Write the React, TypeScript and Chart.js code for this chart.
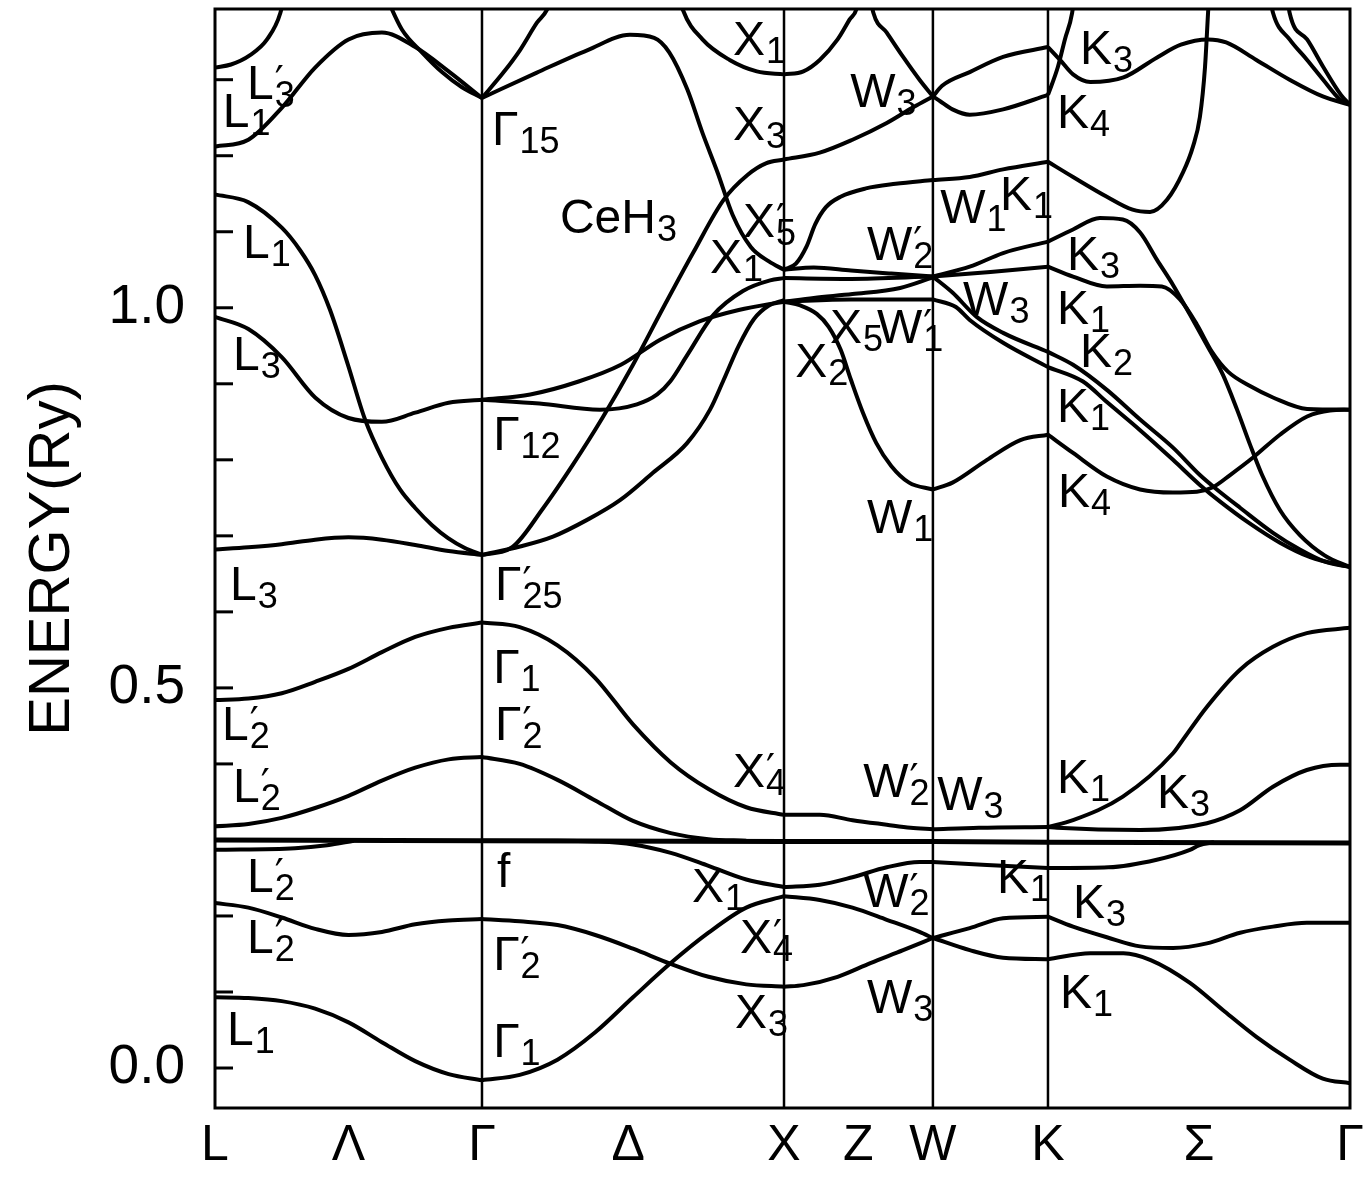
import React, { useEffect, useRef } from "react";
import { Chart, registerables } from "chart.js";

Chart.register(...registerables);

// High-symmetry points along the path (units of 2π/a): L, Γ, X, W, K, Γ
const SYM_K = [0, 0.884, 1.884, 2.377, 2.758, 3.758];
const X_TICK_K = [0, 0.442, 0.884, 1.368, 1.884, 2.13, 2.377, 2.758, 3.258, 3.758];
const X_TICK_LABELS = ["L", "Λ", "Γ", "Δ", "X", "Z", "W", "K", "Σ", "Γ"];
const Y_LABEL_TICKS = [0, 0.5, 1.0];
const Y_MINOR_TICKS = [0, 0.1, 0.2, 0.3, 0.4, 0.5, 0.6, 0.7, 0.8, 0.9, 1.0, 1.1, 1.2, 1.3];
const E_MIN = -0.0526;
const E_MAX = 1.393;

// Bands per segment: [fraction along segment, energy (Ry)]
const BANDS_L_G = [
  [[0, 0.093], [0.125, 0.092], [0.25, 0.088], [0.375, 0.078], [0.5, 0.06], [0.625, 0.034], [0.75, 0.009], [0.875, -0.008], [1, -0.016]],
  [[0, 0.217], [0.125, 0.211], [0.25, 0.198], [0.375, 0.183], [0.5, 0.175], [0.625, 0.179], [0.75, 0.189], [0.875, 0.194], [1, 0.196]],
  [[0, 0.287], [0.3, 0.289], [0.42, 0.293], [0.52, 0.299]],
  [[0, 0.318], [0.125, 0.321], [0.25, 0.329], [0.375, 0.342], [0.5, 0.358], [0.625, 0.378], [0.75, 0.395], [0.875, 0.406], [1, 0.409]],
  [[0, 0.484], [0.125, 0.486], [0.25, 0.493], [0.375, 0.508], [0.5, 0.525], [0.625, 0.547], [0.75, 0.567], [0.875, 0.579], [1, 0.586]],
  [[0, 0.682], [0.125, 0.685], [0.25, 0.689], [0.375, 0.695], [0.5, 0.698], [0.625, 0.695], [0.75, 0.688], [0.875, 0.68], [1, 0.675]],
  [[0, 1.149], [0.124, 1.139], [0.251, 1.105], [0.318, 1.076], [0.375, 1.043], [0.431, 0.997], [0.498, 0.925], [0.562, 0.853], [0.625, 0.803], [0.693, 0.761], [0.749, 0.737], [0.813, 0.714], [0.873, 0.697], [0.936, 0.684], [1, 0.675]],
  [[0, 0.988], [0.125, 0.972], [0.25, 0.935], [0.375, 0.882], [0.5, 0.855], [0.625, 0.85], [0.75, 0.862], [0.875, 0.875], [1, 0.879]],
  [[0, 1.212], [0.125, 1.221], [0.25, 1.263], [0.375, 1.316], [0.5, 1.353], [0.625, 1.362], [0.75, 1.343], [0.875, 1.311], [1, 1.276]],
  [[0, 1.316], [0.06, 1.32], [0.13, 1.332], [0.195, 1.353], [0.245, 1.388], [0.27, 1.43]],
  [[0.64, 1.41], [0.7, 1.366], [0.775, 1.336], [0.85, 1.31], [0.925, 1.29], [1, 1.276]],
];

const BANDS_G_X = [
  [[0, -0.016], [0.125, -0.009], [0.25, 0.011], [0.375, 0.047], [0.5, 0.093], [0.625, 0.138], [0.75, 0.178], [0.875, 0.211], [1, 0.226]],
  [[0, 0.196], [0.125, 0.193], [0.25, 0.188], [0.375, 0.175], [0.5, 0.157], [0.625, 0.137], [0.75, 0.12], [0.875, 0.11], [1, 0.107]],
  [[0, 0.299], [0.25, 0.299], [0.375, 0.298], [0.5, 0.294], [0.625, 0.283], [0.75, 0.266], [0.875, 0.248], [1, 0.238]],
  [[0, 0.409], [0.125, 0.4], [0.25, 0.379], [0.375, 0.352], [0.5, 0.325], [0.625, 0.309], [0.75, 0.301], [0.875, 0.299]],
  [[0, 0.586], [0.125, 0.58], [0.25, 0.556], [0.375, 0.513], [0.5, 0.452], [0.625, 0.402], [0.75, 0.367], [0.875, 0.343], [1, 0.333]],
  [[0, 0.675], [0.1, 0.685], [0.2, 0.735], [0.3, 0.793], [0.4, 0.856], [0.5, 0.925], [0.6, 1.0], [0.7, 1.073], [0.8, 1.142], [0.88, 1.175], [0.94, 1.19], [1, 1.195]],
  [[0, 0.675], [0.126, 0.686], [0.235, 0.699], [0.348, 0.721], [0.457, 0.747], [0.566, 0.783], [0.679, 0.822], [0.755, 0.866], [0.8, 0.905], [0.85, 0.95], [0.9, 0.985], [0.95, 1.003], [1, 1.01]],
  [[0, 0.879], [0.16, 0.886], [0.32, 0.903], [0.46, 0.925], [0.59, 0.958], [0.72, 0.982], [0.85, 0.997], [1, 1.008]],
  [[0, 0.879], [0.19, 0.874], [0.39, 0.866], [0.513, 0.873], [0.58, 0.886], [0.623, 0.903], [0.68, 0.938], [0.765, 0.99], [0.864, 1.022], [0.954, 1.036], [1, 1.039]],
  [[0, 1.276], [0.18, 1.309], [0.35, 1.339], [0.49, 1.359], [0.57, 1.355], [0.62, 1.336], [0.68, 1.287], [0.73, 1.23], [0.78, 1.178], [0.83, 1.122], [0.89, 1.08], [0.95, 1.061], [1, 1.05]],
  [[0, 1.276], [0.07, 1.309], [0.126, 1.339], [0.182, 1.375], [0.215, 1.392], [0.245, 1.425]],
  [[0.64, 1.43], [0.665, 1.392], [0.73, 1.353], [0.82, 1.326], [0.91, 1.311], [1, 1.307]],
];

const BANDS_X_W = [
  [[0, 0.107], [0.13, 0.109], [0.36, 0.12], [0.58, 0.138], [0.8, 0.155], [1, 0.171]],
  [[0, 0.226], [0.24, 0.221], [0.46, 0.211], [0.69, 0.195], [0.91, 0.179], [1, 0.171]],
  [[0, 0.238], [0.24, 0.241], [0.46, 0.251], [0.69, 0.264], [0.91, 0.271], [1, 0.271]],
  [[0, 0.333], [0.24, 0.333], [0.46, 0.326], [0.69, 0.32], [0.85, 0.316], [1, 0.314]],
  [[0, 1.008], [0.11, 1.003], [0.22, 0.992], [0.3, 0.975], [0.38, 0.945], [0.45, 0.905], [0.53, 0.862], [0.62, 0.822], [0.72, 0.792], [0.84, 0.77], [1, 0.761]],
  [[0, 1.05], [0.08, 1.058], [0.15, 1.08], [0.21, 1.11], [0.28, 1.132], [0.38, 1.146], [0.55, 1.157], [0.75, 1.163], [1, 1.168]],
  [[0, 1.195], [0.24, 1.204], [0.46, 1.221], [0.69, 1.243], [0.87, 1.264], [1, 1.278]],
  [[0.57, 1.42], [0.6, 1.388], [0.69, 1.362], [0.8, 1.33], [0.91, 1.3], [1, 1.278]],
  [[0, 1.307], [0.13, 1.311], [0.24, 1.326], [0.36, 1.353], [0.44, 1.379], [0.49, 1.395], [0.52, 1.43]],
  [[0, 1.05], [0.2, 1.053], [0.45, 1.049], [0.72, 1.045], [1, 1.041]],
  [[0, 1.039], [0.45, 1.038], [1, 1.041]],
  [[0, 1.008], [0.45, 1.011], [1, 1.011]],
  [[0, 1.008], [0.2, 1.013], [0.46, 1.018], [0.78, 1.026], [1, 1.04]],
];

const BANDS_W_K = [
  [[0, 0.171], [0.32, 0.184], [0.61, 0.197], [1, 0.199]],
  [[0, 0.171], [0.32, 0.155], [0.61, 0.145], [1, 0.143]],
  [[0, 0.271], [0.47, 0.267], [1, 0.263]],
  [[0, 0.314], [0.4, 0.316], [1, 0.317]],
  [[0, 0.761], [0.17, 0.77], [0.47, 0.8], [0.76, 0.826], [1, 0.833]],
  [[0, 1.041], [0.17, 1.02], [0.38, 0.988], [0.61, 0.967], [1, 0.942]],
  [[0, 1.011], [0.2, 1.001], [0.32, 0.984], [0.61, 0.954], [1, 0.922]],
  [[0, 1.041], [0.32, 1.054], [0.61, 1.072], [1, 1.087]],
  [[0, 1.041], [0.5, 1.047], [1, 1.054]],
  [[0, 1.168], [0.32, 1.172], [0.61, 1.182], [1, 1.192]],
  [[0, 1.278], [0.08, 1.292], [0.32, 1.31], [0.61, 1.33], [1, 1.343]],
  [[0, 1.278], [0.06, 1.272], [0.17, 1.261], [0.32, 1.254], [0.61, 1.261], [1, 1.28]],
];

const BANDS_K_G = [
  [[0, 0.143], [0.14, 0.151], [0.25, 0.151], [0.34, 0.142], [0.47, 0.112], [0.58, 0.076], [0.69, 0.041], [0.8, 0.011], [0.91, -0.014], [1, -0.02]],
  [[0, 0.199], [0.083, 0.186], [0.195, 0.172], [0.305, 0.16], [0.414, 0.158], [0.526, 0.164], [0.636, 0.178], [0.745, 0.186], [0.857, 0.191], [1, 0.191]],
  [[0, 0.263], [0.2, 0.264], [0.36, 0.274], [0.47, 0.287], [0.5, 0.293], [0.55, 0.297]],
  [[0, 0.317], [0.083, 0.326], [0.248, 0.357], [0.414, 0.414], [0.447, 0.432], [0.526, 0.475], [0.636, 0.524], [0.745, 0.554], [0.857, 0.572], [1, 0.579]],
  [[0, 0.317], [0.03, 0.316], [0.305, 0.313], [0.526, 0.322], [0.636, 0.339], [0.745, 0.37], [0.857, 0.392], [0.967, 0.399], [1, 0.399]],
  [[0, 0.833], [0.083, 0.809], [0.195, 0.778], [0.305, 0.761], [0.414, 0.757], [0.493, 0.758], [0.546, 0.764], [0.603, 0.78], [0.679, 0.803], [0.768, 0.833], [0.858, 0.857], [0.934, 0.865], [1, 0.866]],
  [[0, 0.942], [0.083, 0.925], [0.195, 0.892], [0.305, 0.853], [0.414, 0.816], [0.503, 0.78], [0.553, 0.763], [0.636, 0.737], [0.745, 0.704], [0.834, 0.682], [0.917, 0.666], [1, 0.659]],
  [[0, 0.922], [0.116, 0.903], [0.195, 0.876], [0.305, 0.839], [0.414, 0.8], [0.503, 0.767], [0.57, 0.745], [0.669, 0.716], [0.768, 0.691], [0.868, 0.672], [1, 0.659]],
  [[0, 1.087], [0.083, 1.103], [0.172, 1.118], [0.248, 1.116], [0.305, 1.099], [0.361, 1.063], [0.414, 1.03], [0.47, 0.991], [0.526, 0.951], [0.579, 0.912], [0.626, 0.866], [0.669, 0.82], [0.709, 0.78], [0.768, 0.734], [0.834, 0.701], [0.917, 0.674], [1, 0.659]],
  [[0, 1.054], [0.083, 1.041], [0.195, 1.028], [0.305, 1.029], [0.377, 1.028], [0.437, 1.011], [0.493, 0.978], [0.543, 0.942], [0.596, 0.916], [0.669, 0.897], [0.745, 0.882], [0.858, 0.867], [1, 0.866]],
  [[0, 1.192], [0.083, 1.172], [0.195, 1.146], [0.28, 1.129], [0.338, 1.126], [0.394, 1.142], [0.447, 1.178], [0.48, 1.212], [0.503, 1.251], [0.52, 1.317], [0.53, 1.388], [0.536, 1.43]],
  [[0, 1.343], [0.04, 1.326], [0.083, 1.307], [0.14, 1.297], [0.25, 1.303], [0.36, 1.329], [0.44, 1.346], [0.53, 1.353], [0.59, 1.349], [0.69, 1.326], [0.8, 1.3], [0.91, 1.278], [1, 1.267]],
  [[0, 1.28], [0.033, 1.317], [0.056, 1.353], [0.08, 1.388], [0.09, 1.42]],
  [[0.73, 1.42], [0.745, 1.388], [0.8, 1.353], [0.858, 1.326], [0.911, 1.3], [0.967, 1.274], [1, 1.267]],
  [[0.79, 1.42], [0.8, 1.388], [0.858, 1.353], [0.911, 1.317], [0.97, 1.28], [1, 1.267]],
];

// Flat f band across the whole path: [k, energy]
const F_BAND = [[0, 0.3], [0.884, 0.299], [1.884, 0.298], [2.377, 0.298], [2.758, 0.297], [3.758, 0.296]];

// State labels: [k, energy at baseline, symbol, subscript, prime]
const STATE_LABELS: [number, number, string, string, boolean][] = [
  [0.106, 1.274, "L", "3", true],
  [0.026, 1.238, "L", "1", false],
  [0.093, 1.066, "L", "1", false],
  [0.06, 0.918, "L", "3", false],
  [0.05, 0.616, "L", "3", false],
  [0.023, 0.432, "L", "2", true],
  [0.06, 0.35, "L", "2", true],
  [0.106, 0.232, "L", "2", true],
  [0.106, 0.151, "L", "2", true],
  [0.04, 0.03, "L", "1", false],
  [0.917, 1.214, "Γ", "15", false],
  [1.142, 1.099, "CeH", "3", false],
  [0.921, 0.813, "Γ", "12", false],
  [0.927, 0.616, "Γ", "25", true],
  [0.921, 0.507, "Γ", "1", false],
  [0.927, 0.432, "Γ", "2", true],
  [0.934, 0.238, "f", "", false],
  [0.921, 0.129, "Γ", "2", true],
  [0.921, 0.014, "Γ", "1", false],
  [1.715, 1.333, "X", "1", false],
  [1.715, 1.221, "X", "3", false],
  [1.748, 1.093, "X", "5", true],
  [1.639, 1.046, "X", "1", false],
  [1.921, 0.909, "X", "2", false],
  [2.036, 0.954, "X", "5", false],
  [2.192, 0.954, "W", "1", true],
  [1.715, 0.37, "X", "4", true],
  [1.579, 0.218, "X", "1", false],
  [1.738, 0.151, "X", "4", true],
  [1.722, 0.053, "X", "3", false],
  [2.103, 1.264, "W", "3", false],
  [2.159, 1.063, "W", "2", true],
  [2.401, 1.112, "W", "1", false],
  [2.599, 1.129, "K", "1", false],
  [2.477, 0.991, "W", "3", false],
  [2.159, 0.704, "W", "1", false],
  [2.146, 0.357, "W", "2", true],
  [2.391, 0.339, "W", "3", false],
  [2.589, 0.23, "K", "1", false],
  [2.146, 0.212, "W", "2", true],
  [2.159, 0.072, "W", "3", false],
  [2.864, 1.32, "K", "3", false],
  [2.788, 1.237, "K", "4", false],
  [2.821, 1.05, "K", "3", false],
  [2.788, 0.978, "K", "1", false],
  [2.864, 0.922, "K", "2", false],
  [2.788, 0.85, "K", "1", false],
  [2.791, 0.738, "K", "4", false],
  [2.788, 0.362, "K", "1", false],
  [3.119, 0.342, "K", "3", false],
  [2.841, 0.197, "K", "3", false],
  [2.798, 0.079, "K", "1", false],
];

const SEGMENTS = [BANDS_L_G, BANDS_G_X, BANDS_X_W, BANDS_W_K, BANDS_K_G];
const FONT = '"Liberation Sans", Arial, sans-serif';

function buildDatasets() {
  const ds: any[] = [];
  SEGMENTS.forEach((bands, s) => {
    const k0 = SYM_K[s];
    const k1 = SYM_K[s + 1];
    bands.forEach((band) => {
      ds.push({
        data: band.map(([t, e]) => ({ x: k0 + t * (k1 - k0), y: e })),
        borderColor: "#000",
        borderWidth: 4,
        pointRadius: 0,
        fill: false,
        tension: 0,
        cubicInterpolationMode: "monotone",
      });
    });
  });
  ds.push({
    data: F_BAND.map(([k, e]) => ({ x: k, y: e })),
    borderColor: "#000",
    borderWidth: 5,
    pointRadius: 0,
    fill: false,
    tension: 0,
  });
  return ds;
}

const decorPlugin = {
  id: "decor",
  beforeDatasetsDraw(chart: any) {
    const { ctx, chartArea: a, scales } = chart;
    const xs = scales.x;
    const ys = scales.y;
    ctx.save();
    ctx.strokeStyle = "#000";
    ctx.lineWidth = 2.5;
    SYM_K.slice(1, -1).forEach((k) => {
      const px = xs.getPixelForValue(k);
      ctx.beginPath();
      ctx.moveTo(px, a.top);
      ctx.lineTo(px, a.bottom);
      ctx.stroke();
    });
    ctx.lineWidth = 3;
    Y_MINOR_TICKS.forEach((v) => {
      const py = ys.getPixelForValue(v);
      ctx.beginPath();
      ctx.moveTo(a.left, py);
      ctx.lineTo(a.left + 18, py);
      ctx.stroke();
    });
    ctx.restore();
  },
  afterDatasetsDraw(chart: any) {
    const { ctx, chartArea: a, scales } = chart;
    const xs = scales.x;
    const ys = scales.y;
    ctx.save();
    ctx.strokeStyle = "#000";
    ctx.lineWidth = 3;
    ctx.strokeRect(a.left, a.top, a.right - a.left, a.bottom - a.top);
    ctx.fillStyle = "#000";
    ctx.textAlign = "left";
    ctx.textBaseline = "alphabetic";
    STATE_LABELS.forEach(([k, e, main, sub, prime]) => {
      const px = xs.getPixelForValue(k);
      const py = ys.getPixelForValue(e);
      ctx.font = "48px " + FONT;
      ctx.fillText(main, px, py);
      const w = ctx.measureText(main).width;
      if (sub) {
        ctx.font = "36px " + FONT;
        ctx.fillText(sub, px + w + 1, py + 8);
      }
      if (prime) {
        ctx.font = '40px "DejaVu Sans", ' + FONT;
        ctx.fillText("′", px + w + 1, py - 4);
      }
    });
    ctx.restore();
  },
};

export default function App() {
  const ref = useRef<HTMLCanvasElement | null>(null);
  useEffect(() => {
    document.body.style.margin = "0";
    const canvas = ref.current;
    if (!canvas) return;
    const chart = new Chart(canvas, {
      type: "line",
      data: { datasets: buildDatasets() },
      options: {
        responsive: false,
        animation: false,
        devicePixelRatio: 1,
        layout: { padding: { left: 0, right: 16, top: 9, bottom: 0 } },
        elements: { line: { capBezierPoints: false } },
        plugins: { legend: { display: false }, tooltip: { enabled: false } },
        scales: {
          x: {
            type: "linear",
            min: SYM_K[0],
            max: SYM_K[SYM_K.length - 1],
            grid: { display: false },
            border: { display: false },
            afterBuildTicks: (s: any) => {
              s.ticks = X_TICK_K.map((v) => ({ value: v }));
            },
            afterFit: (s: any) => {
              s.height = 81;
              s.paddingLeft = 0;
              s.paddingRight = 0;
            },
            ticks: {
              color: "#000",
              font: { size: 50, family: FONT },
              padding: 0,
              autoSkip: false,
              maxRotation: 0,
              minRotation: 0,
              callback: (_v: any, i: number) => X_TICK_LABELS[i],
            },
          },
          y: {
            type: "linear",
            min: E_MIN,
            max: E_MAX,
            grid: { display: false },
            border: { display: false },
            afterBuildTicks: (s: any) => {
              s.ticks = Y_LABEL_TICKS.map((v) => ({ value: v }));
            },
            afterFit: (s: any) => {
              s.width = 215;
              s.paddingTop = 0;
              s.paddingBottom = 0;
            },
            ticks: {
              color: "#000",
              font: { size: 55, family: FONT },
              padding: 22,
              callback: (v: any) => Number(v).toFixed(1),
            },
            title: {
              display: true,
              text: "ENERGY(Ry)",
              color: "#000",
              font: { size: 58, family: FONT },
              padding: { top: 18, bottom: 0 },
            },
          },
        },
      } as any,
      plugins: [decorPlugin],
    });
    return () => chart.destroy();
  }, []);
  return <canvas ref={ref} width={1366} height={1189} style={{ display: "block" }} />;
}
